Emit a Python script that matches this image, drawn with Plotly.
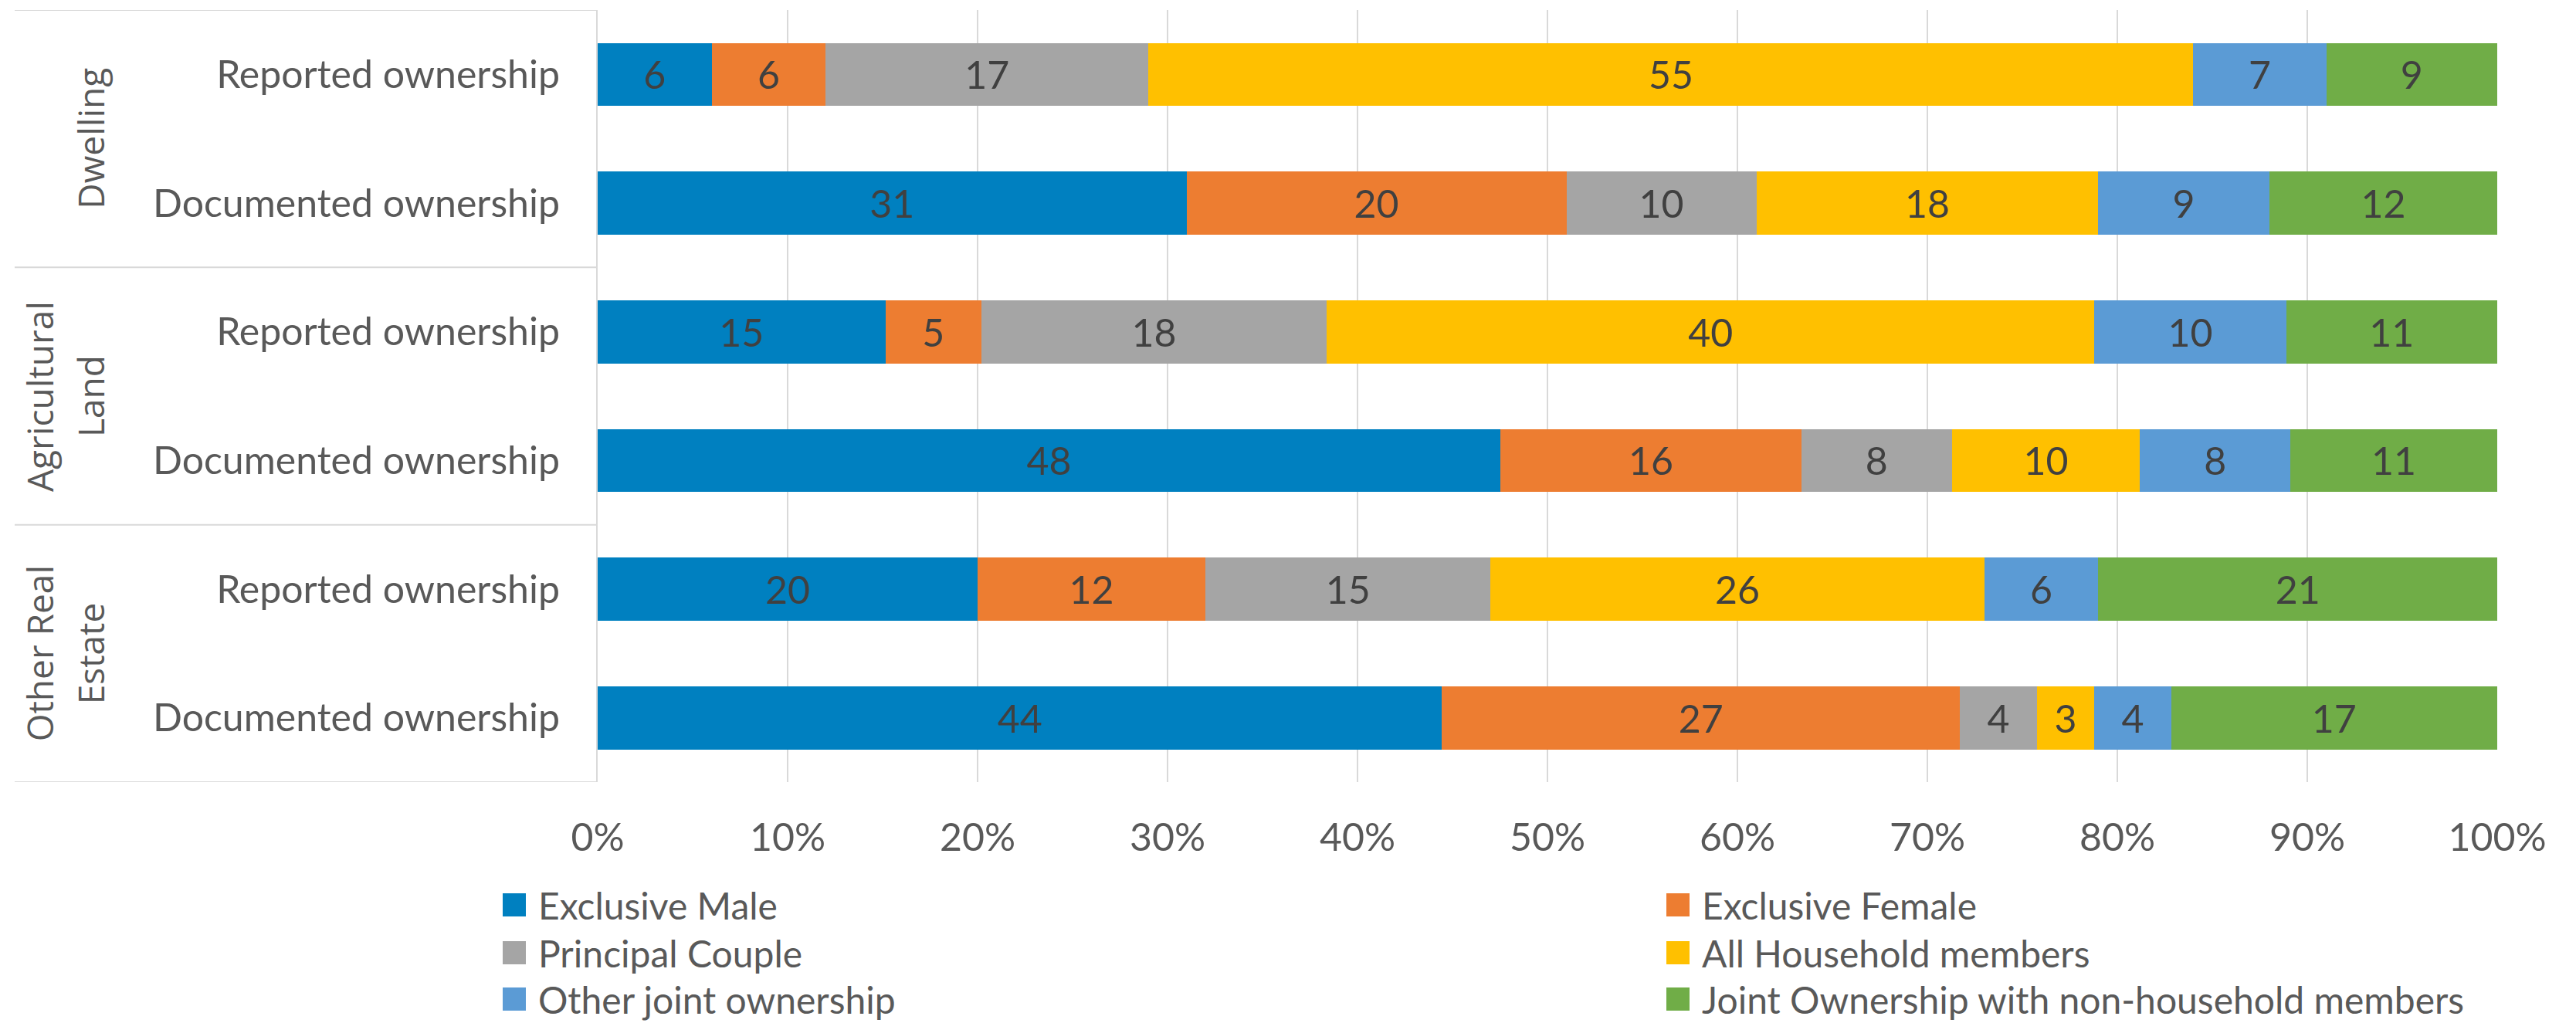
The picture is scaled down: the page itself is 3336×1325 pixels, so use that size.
import plotly.graph_objects as go

# Ownership type shares (percent) for each asset / ownership measure
groups = ["Dwelling", "Agricultural<br>Land", "Other Real<br>Estate"]
row_labels = ["Reported ownership", "Documented ownership"] * 3

series_names = [
    "Exclusive Male",
    "Exclusive Female",
    "Principal Couple",
    "All Household members",
    "Other joint ownership",
    "Joint Ownership with non-household members",
]
exclusive_male = [6, 31, 15, 48, 20, 44]
exclusive_female = [6, 20, 5, 16, 12, 27]
principal_couple = [17, 10, 18, 8, 15, 4]
all_household = [55, 18, 40, 10, 26, 3]
other_joint = [7, 9, 10, 8, 6, 4]
joint_non_household = [9, 12, 11, 11, 21, 17]

x_ticks = [0, 10, 20, 30, 40, 50, 60, 70, 80, 90, 100]

colors = ["#0080C0", "#ED7D31", "#A5A5A5", "#FFC000", "#5B9BD5", "#70AD47"]
series_values = [exclusive_male, exclusive_female, principal_couple,
                 all_household, other_joint, joint_non_household]

W, H = 3336, 1325
PLOT_L, PLOT_R, PLOT_T, PLOT_B = 774, 3234, 13, 1013
FONT = "Lato"
TXT = "#595959"
GRID = "#D9D9D9"


def px_x(px):
    return (px - PLOT_L) / (PLOT_R - PLOT_L)


def px_y(py):
    return (PLOT_B - py) / (PLOT_B - PLOT_T)


rows = list(range(len(row_labels)))

fig = go.Figure()
for name, vals, col in zip(series_names, series_values, colors):
    fig.add_trace(go.Bar(
        x=vals, y=rows, orientation="h", name=name,
        marker=dict(color=col, line=dict(width=0)),
        width=0.49,
        text=[str(v) for v in vals],
        textposition="inside", insidetextanchor="middle", textangle=0,
        textfont=dict(family=FONT, size=50, color="#404040"),
        showlegend=False,
    ))

shapes = []
# group separators in the category label area
for yv in [-0.5, 1.5, 3.5, 5.5]:
    shapes.append(dict(type="line", xref="paper", yref="y",
                       x0=px_x(19), x1=0, y0=yv, y1=yv,
                       line=dict(color=GRID, width=2)))

annotations = []
# rotated group titles; the last line of each sits nearest the category labels
LINE_STEP = 66
for i, g in enumerate(groups):
    lines = g.split("<br>")
    n = len(lines)
    for j, line in enumerate(lines):
        right_px = 150 - (n - 1 - j) * LINE_STEP
        annotations.append(dict(
            text=line, xref="paper", yref="y", x=px_x(right_px), y=2 * i + 0.5,
            xanchor="right", yanchor="middle", textangle=-90, showarrow=False,
            font=dict(family="Open Sans", size=46, color=TXT),
        ))

# legend: two columns, three rows
leg_cols = [651, 2158]
leg_rows = [1172, 1234, 1294]
sq = 30
for k, (name, col) in enumerate(zip(series_names, colors)):
    cx = leg_cols[k % 2]
    cy = leg_rows[k // 2]
    shapes.append(dict(type="rect", xref="paper", yref="paper",
                       x0=px_x(cx), x1=px_x(cx + sq),
                       y0=px_y(cy + sq / 2), y1=px_y(cy - sq / 2),
                       fillcolor=col, line=dict(width=0)))
    annotations.append(dict(
        text=name, xref="paper", yref="paper", x=px_x(cx + sq + 14), y=px_y(cy),
        xanchor="left", yanchor="middle", showarrow=False,
        font=dict(family=FONT, size=48, color=TXT),
    ))

fig.update_layout(
    width=W, height=H,
    margin=dict(l=PLOT_L, r=W - PLOT_R, t=PLOT_T, b=H - PLOT_B, pad=0),
    barmode="stack", barnorm="percent",
    plot_bgcolor="white", paper_bgcolor="white",
    font=dict(family=FONT, size=50, color=TXT),
    uniformtext=dict(minsize=50, mode="show"),
    shapes=shapes, annotations=annotations,
    xaxis=dict(range=[0, 100], tickvals=x_ticks, ticktext=[f"{t}%" for t in x_ticks],
               showgrid=True, gridcolor=GRID, gridwidth=2, zeroline=False,
               showline=False, ticks="", ticklabelstandoff=38,
               tickfont=dict(family=FONT, size=50, color=TXT)),
    yaxis=dict(range=[5.5, -0.5], tickvals=rows, ticktext=row_labels,
               showgrid=False, zeroline=False, showline=True, linecolor=GRID,
               linewidth=2, ticks="", ticklabelstandoff=37,
               tickfont=dict(family=FONT, size=50, color=TXT)),
)

fig.write_html("out.html")
